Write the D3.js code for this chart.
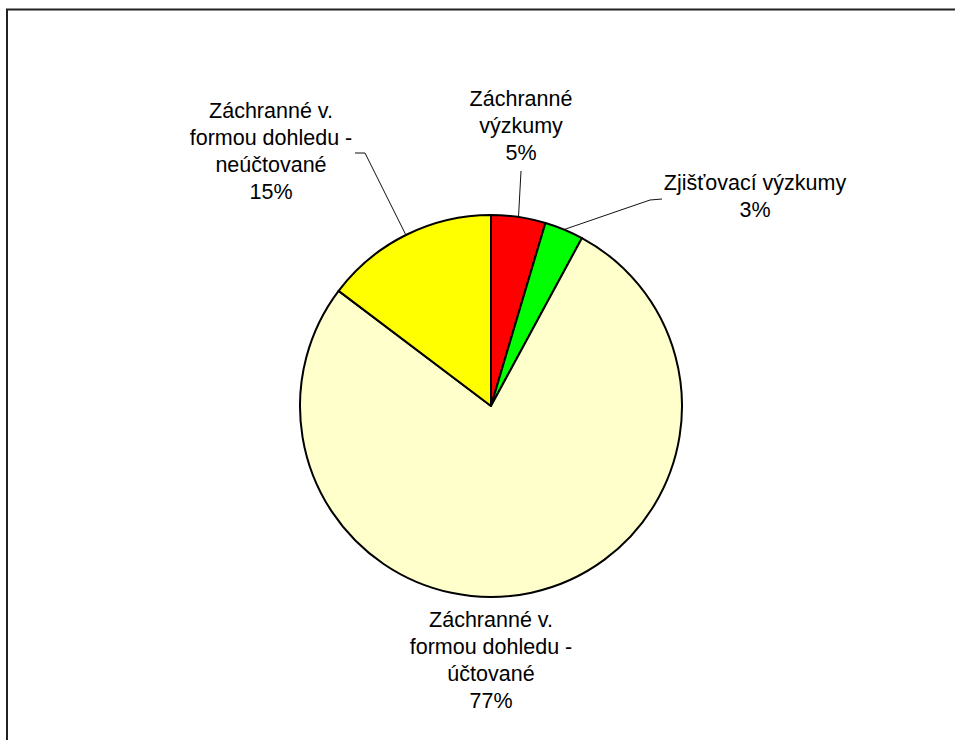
<!DOCTYPE html>
<html>
<head>
<meta charset="utf-8">
<script src="https://cdn.jsdelivr.net/npm/d3@7"></script>
<style>
  body { margin: 0; background: #fff; }
  svg { display: block; }
</style>
</head>
<body>
<div id="chart"></div>
<script>
// slice data (clockwise from 12 o'clock)
var categories = ['Záchranné výzkumy', 'Zjišťovací výzkumy', 'Záchranné v. formou dohledu - účtované', 'Záchranné v. formou dohledu - neúčtované'];
var values = [4.6, 3.3, 77.4, 14.7];
var labelLines = [
    ['Záchranné', 'výzkumy'],
    ['Zjišťovací výzkumy'],
    ['Záchranné v.', 'formou dohledu -', 'účtované'],
    ['Záchranné v.', 'formou dohledu -', 'neúčtované']
];
var colors = ['#ff0000', '#00ff00', '#ffffcc', '#ffff00'];

var width = 955, height = 740;
var cx = 491, cy = 406, radius = 191;
var lineH = 27;

// label placement: text centre x, first baseline y, leader start (or null)
var labelPos = [
    { x: 521, y: 106, leader: [[521, 171]] },
    { x: 755, y: 190, leader: [[662, 199], [650, 200]] },
    { x: 491, y: 627, leader: null },
    { x: 271, y: 118, leader: [[355, 153], [365, 153]] }
];

var svg = d3.select('#chart')
    .append('svg')
    .attr('width', width)
    .attr('height', height)

// chart area frame (runs off right and bottom)
svg.append('rect')
    .attr('x', 7)
    .attr('y', 9.5)
    .attr('width', 1000)
    .attr('height', 1000)
    .attr('fill', 'none')
    .attr('stroke', '#222')
    .attr('stroke-width', 2)

var total = d3.sum(values);
var pie = d3.pie().sort(null).value(d => d);
var arcs = pie(values);
var arc = d3.arc().innerRadius(0).outerRadius(radius);

var g = svg.append('g').attr('transform', 'translate(' + cx + ',' + cy + ')');

g.selectAll('path.slice')
    .data(arcs)
    .enter()
    .append('path')
    .attr('class', 'slice')
    .attr('d', arc)
    .attr('fill', (d, i) => colors[i])
    .attr('stroke', 'black')
    .attr('stroke-width', 2)
    .attr('stroke-linejoin', 'round')

// leader lines to the middle of each slice's rim
arcs.forEach(function(d, i){
    var p = labelPos[i];
    if (!p.leader) return;
    var mid = (d.startAngle + d.endAngle) / 2;
    var end = [cx + radius * Math.sin(mid), cy - radius * Math.cos(mid)];
    var pts = p.leader.concat([end]);
    svg.append('path')
        .attr('d', d3.line()(pts))
        .attr('fill', 'none')
        .attr('stroke', '#111')
        .attr('stroke-width', 1)
});

// labels
arcs.forEach(function(d, i){
    var p = labelPos[i];
    var lines = labelLines[i].concat([Math.round(values[i] / total * 100) + '%']);
    var t = svg.append('text')
        .attr('text-anchor', 'middle')
        .attr('font-family', 'Liberation Sans, Arial, sans-serif')
        .attr('font-size', '21.5px')
        .attr('fill', 'black')
    lines.forEach(function(s, k){
        t.append('tspan')
            .attr('x', p.x)
            .attr('y', p.y + k * lineH)
            .text(s)
    });
});
</script>
</body>
</html>
